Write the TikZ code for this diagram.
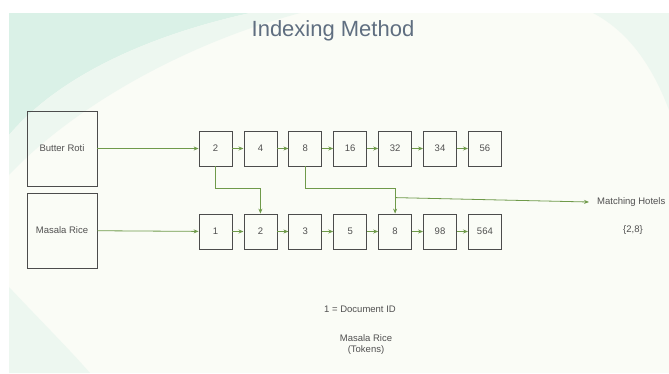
\documentclass[tikz,border=0pt]{standalone}
\usepackage{fontspec}
\setmainfont{Liberation Sans}
\usepackage{tikz}
\usetikzlibrary{arrows.meta}
\definecolor{linegreen}{HTML}{6F9A4A}
\definecolor{labelgray}{HTML}{505050}
\definecolor{titleblue}{HTML}{5F6E80}
\definecolor{slidebg}{HTML}{FAFCF6}
\definecolor{mint}{HTML}{DAF1E7}
\definecolor{palemint}{HTML}{EDF7F0}
\tikzstyle{Arrow}=[linegreen, line width=0.8pt, -{Stealth[length=5pt,width=4pt]}]
\tikzstyle{Token}=[draw=black!70, line width=0.8pt, minimum width=70pt, minimum height=75pt, text=labelgray, font=\fontsize{9.5}{11}\selectfont]
\tikzstyle{DocId}=[draw=black!70, line width=0.8pt, minimum width=33pt, minimum height=35pt, text=labelgray, font=\fontsize{9.5}{11}\selectfont]
\tikzstyle{Note}=[text=labelgray, font=\fontsize{9.5}{11}\selectfont, align=center]

\begin{document}
\begin{tikzpicture}[x=1pt, y=-1pt]

\fill[white] (0,0) rectangle (669,373);
\useasboundingbox (0,0) rectangle (669,373);
\fill[slidebg] (9,13) rectangle (669,373);
\fill[mint] (9,13) -- (250,13) .. controls (150,35) and (60,75) .. (9,135) -- cycle;
\fill[palemint] (250,13) -- (300,13) .. controls (180,45) and (70,110) .. (9,175) -- (9,135) .. controls (60,75) and (150,35) .. cycle;
\fill[palemint] (593,13) -- (669,13) -- (669,110) .. controls (650,60) and (625,30) .. cycle;
\fill[palemint] (9,287) .. controls (40,320) and (70,350) .. (90,373) -- (9,373) -- cycle;

\node[text=titleblue, font=\fontsize{22}{25}\selectfont] (title) at (333,31) {Indexing Method};

\node[Token] (butter) at (62,148.5) {Butter Roti};
\node[Token] (masala) at (62,230.5) {Masala Rice};

\foreach \v [count=\i] in {2,4,8,16,32,34,56}
  \node[DocId] (r\i) at ({215.5+44.9*(\i-1)},148.5) {\v};
\foreach \v [count=\i] in {1,2,3,5,8,98,564}
  \node[DocId] (m\i) at ({215.5+44.9*(\i-1)},231.5) {\v};

\foreach \i [evaluate=\i as \j using int(\i+1)] in {1,...,6} {
  \draw[Arrow] (r\i) -- (r\j);
  \draw[Arrow] (m\i) -- (m\j);
}

\draw[Arrow] (butter) -- (r1);
\draw[Arrow] (masala) -- (m1);

\draw[Arrow] (r1.south) -- ++(0,22) -| (m2.north);
\draw[Arrow] (r3.south) -- ++(0,22) -| (m5.north);

\node[Note, anchor=west, inner xsep=8pt, inner ysep=2pt] (hotels) at (589,202) {Matching Hotels};
\coordinate (split) at ([yshift=16pt]m5.north);
\draw[Arrow] (split) -- (hotels.west);
\node[Note] (result) at (633,230) {\{2,8\}};

\node[Note] (legend) at (360,309) {1 = Document ID};
\node[Note] (caption) at (366,345) {Masala Rice\\(Tokens)};

\end{tikzpicture}
\end{document}
